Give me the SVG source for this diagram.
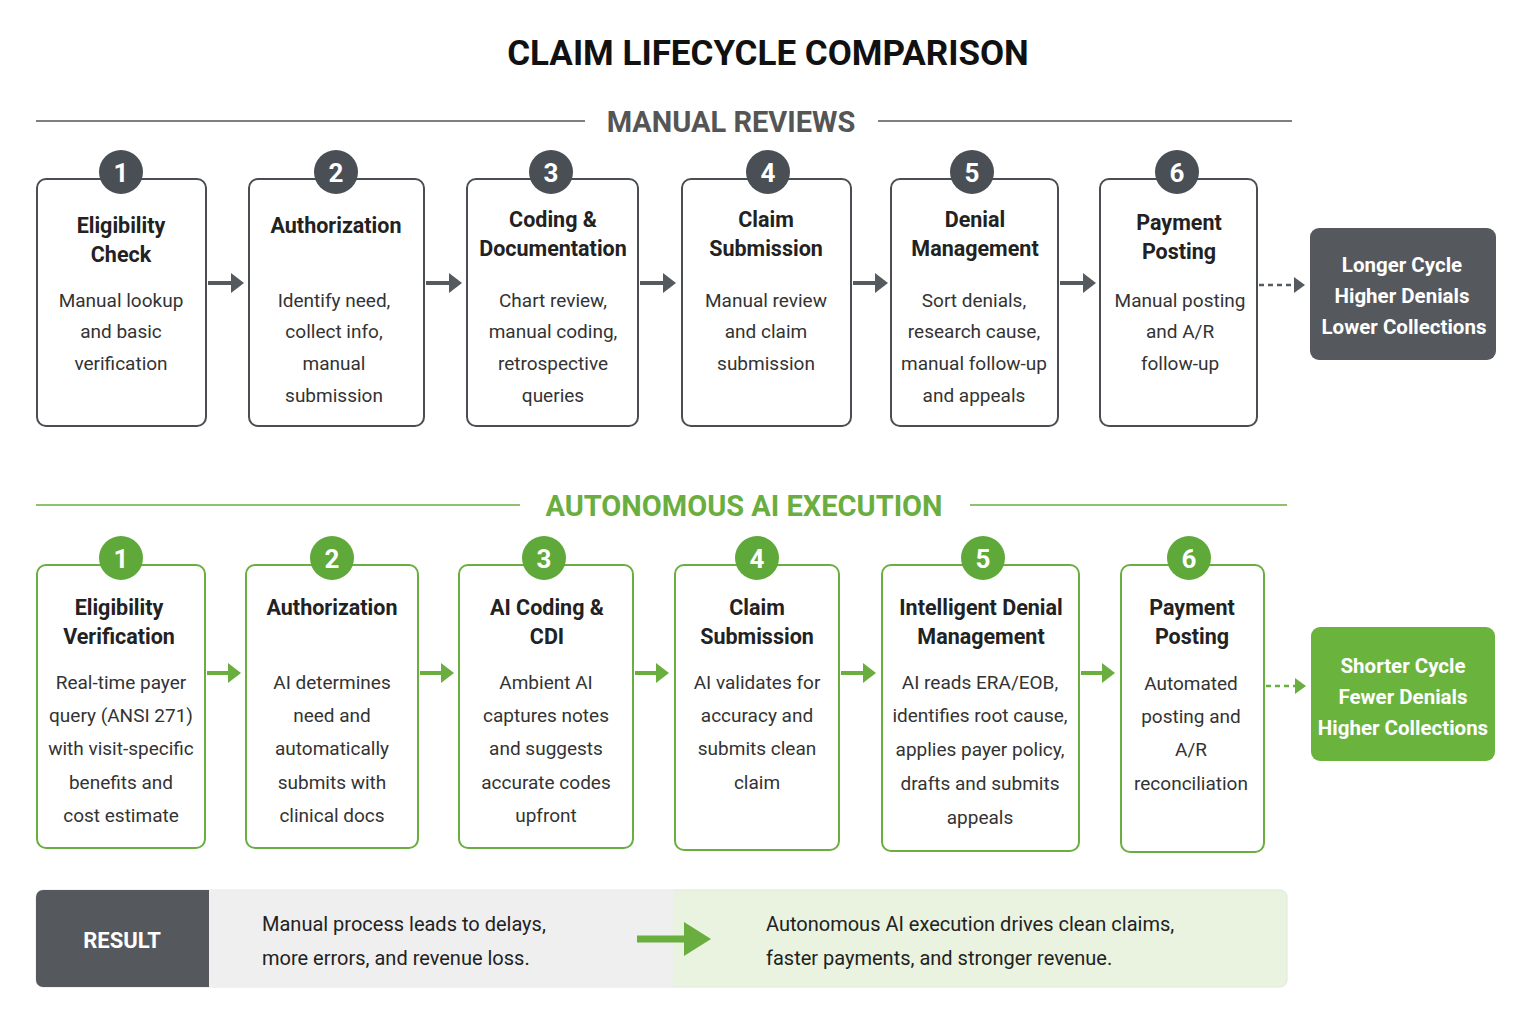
<svg xmlns="http://www.w3.org/2000/svg" width="1535" height="1024" viewBox="0 0 1535 1024">
<defs>
<style>
text{font-family:Roboto,"Liberation Sans",sans-serif;text-anchor:middle}
.t{font-size:21.5px;font-weight:bold;fill:#222}
.b{font-size:19px;fill:#333}
.mb{fill:#fff;stroke:#4a4e52;stroke-width:2}
.ab{fill:#fff;stroke:#6aae3f;stroke-width:2}
.mc{fill:#4a4f55}
.ac{fill:#5fa83a}
.n{font-size:26px;font-weight:bold;fill:#fff}
.ma{stroke:#555a5e;stroke-width:4;fill:none}
.aa{stroke:#6aae3f;stroke-width:4;fill:none}
</style>
<marker id="mh" markerWidth="14" markerHeight="20" refX="2" refY="10" orient="auto" markerUnits="userSpaceOnUse"><path d="M0,0 L13,10 L0,20 z" fill="#555a5e"/></marker>
<marker id="ah" markerWidth="14" markerHeight="20" refX="2" refY="10" orient="auto" markerUnits="userSpaceOnUse"><path d="M0,0 L13,10 L0,20 z" fill="#6aae3f"/></marker>
<marker id="mhs" markerWidth="12" markerHeight="16" refX="2" refY="8" orient="auto" markerUnits="userSpaceOnUse"><path d="M0,0 L11,8 L0,16 z" fill="#555a5e"/></marker>
<marker id="ahs" markerWidth="12" markerHeight="16" refX="2" refY="8" orient="auto" markerUnits="userSpaceOnUse"><path d="M0,0 L11,8 L0,16 z" fill="#6aae3f"/></marker>
</defs>
<rect width="1535" height="1024" fill="#fff"/>
<text x="768" y="65" style="font-size:35px;font-weight:bold;fill:#111">CLAIM LIFECYCLE COMPARISON</text>
<g id="manual-header">
<line x1="36" y1="121" x2="585" y2="121" stroke="#555" stroke-width="1.5"/>
<line x1="878" y1="121" x2="1292" y2="121" stroke="#555" stroke-width="1.5"/>
<text x="731" y="132" style="font-size:29px;font-weight:bold;fill:#555">MANUAL REVIEWS</text>
</g>
<g id="ai-header">
<line x1="36" y1="505" x2="520" y2="505" stroke="#6aae3f" stroke-width="1.5"/>
<line x1="970" y1="505" x2="1287" y2="505" stroke="#6aae3f" stroke-width="1.5"/>
<text x="744" y="516" style="font-size:29px;font-weight:bold;fill:#6aae3f">AUTONOMOUS AI EXECUTION</text>
</g>
<g id="connectors">
<line class="ma" x1="208" y1="283" x2="233" y2="283" marker-end="url(#mh)"/>
<line class="ma" x1="426" y1="283" x2="451" y2="283" marker-end="url(#mh)"/>
<line class="ma" x1="640" y1="283" x2="665" y2="283" marker-end="url(#mh)"/>
<line class="ma" x1="853" y1="283" x2="877" y2="283" marker-end="url(#mh)"/>
<line class="ma" x1="1060" y1="283" x2="1085" y2="283" marker-end="url(#mh)"/>
<line x1="1259" y1="285" x2="1296" y2="285" stroke="#555a5e" stroke-width="2.5" stroke-dasharray="5,4" marker-end="url(#mhs)"/>
<line class="aa" x1="207" y1="673" x2="230" y2="673" marker-end="url(#ah)"/>
<line class="aa" x1="420" y1="673" x2="443" y2="673" marker-end="url(#ah)"/>
<line class="aa" x1="635" y1="673" x2="658" y2="673" marker-end="url(#ah)"/>
<line class="aa" x1="841" y1="673" x2="865" y2="673" marker-end="url(#ah)"/>
<line class="aa" x1="1081" y1="673" x2="1104" y2="673" marker-end="url(#ah)"/>
<line x1="1266" y1="686" x2="1297" y2="686" stroke="#6aae3f" stroke-width="2.5" stroke-dasharray="5,4" marker-end="url(#ahs)"/>
</g>
<g id="m1"><rect class="mb" x="37" y="179" width="169" height="247" rx="9"/><circle class="mc" cx="121" cy="172" r="22"/><text class="n" x="121" y="182">1</text>
<text class="t" x="121" y="233">Eligibility</text><text class="t" x="121" y="262">Check</text>
<text class="b" x="121" y="307">Manual lookup</text><text class="b" x="121" y="338">and basic</text><text class="b" x="121" y="370">verification</text></g>
<g id="m2"><rect class="mb" x="249" y="179" width="175" height="247" rx="9"/><circle class="mc" cx="336" cy="172" r="22"/><text class="n" x="336" y="182">2</text>
<text class="t" x="336" y="233">Authorization</text>
<text class="b" x="334" y="307">Identify need,</text><text class="b" x="334" y="338">collect info,</text><text class="b" x="334" y="370">manual</text><text class="b" x="334" y="402">submission</text></g>
<g id="m3"><rect class="mb" x="467" y="179" width="171" height="247" rx="9"/><circle class="mc" cx="551" cy="172" r="22"/><text class="n" x="551" y="182">3</text>
<text class="t" x="553" y="227">Coding &amp;</text><text class="t" x="553" y="256">Documentation</text>
<text class="b" x="553" y="307">Chart review,</text><text class="b" x="553" y="338">manual coding,</text><text class="b" x="553" y="370">retrospective</text><text class="b" x="553" y="402">queries</text></g>
<g id="m4"><rect class="mb" x="682" y="179" width="169" height="247" rx="9"/><circle class="mc" cx="768" cy="172" r="22"/><text class="n" x="768" y="182">4</text>
<text class="t" x="766" y="227">Claim</text><text class="t" x="766" y="256">Submission</text>
<text class="b" x="766" y="307">Manual review</text><text class="b" x="766" y="338">and claim</text><text class="b" x="766" y="370">submission</text></g>
<g id="m5"><rect class="mb" x="891" y="179" width="167" height="247" rx="9"/><circle class="mc" cx="972" cy="172" r="22"/><text class="n" x="972" y="182">5</text>
<text class="t" x="975" y="227">Denial</text><text class="t" x="975" y="256">Management</text>
<text class="b" x="974" y="307">Sort denials,</text><text class="b" x="974" y="338">research cause,</text><text class="b" x="974" y="370">manual follow-up</text><text class="b" x="974" y="402">and appeals</text></g>
<g id="m6"><rect class="mb" x="1100" y="179" width="157" height="247" rx="9"/><circle class="mc" cx="1177" cy="172" r="22"/><text class="n" x="1177" y="182">6</text>
<text class="t" x="1179" y="230">Payment</text><text class="t" x="1179" y="259">Posting</text>
<text class="b" x="1180" y="307">Manual posting</text><text class="b" x="1180" y="338">and A/R</text><text class="b" x="1180" y="370">follow-up</text></g>
<g id="m-out"><rect x="1310" y="228" width="186" height="132" rx="9" fill="#55595d"/>
<text x="1402" y="272" style="font-size:20.5px;font-weight:bold;fill:#fff">Longer Cycle</text><text x="1402" y="303" style="font-size:20.5px;font-weight:bold;fill:#fff">Higher Denials</text><text x="1404" y="334" style="font-size:20.5px;font-weight:bold;fill:#fff">Lower Collections</text></g>
<g id="a1"><rect class="ab" x="37" y="565" width="168" height="283" rx="9"/><circle class="ac" cx="121" cy="558" r="22"/><text class="n" x="121" y="568">1</text>
<text class="t" x="119" y="615">Eligibility</text><text class="t" x="119" y="644">Verification</text>
<text class="b" x="121" y="689">Real-time payer</text><text class="b" x="121" y="722">query (ANSI 271)</text><text class="b" x="121" y="755">with visit-specific</text><text class="b" x="121" y="789">benefits and</text><text class="b" x="121" y="822">cost estimate</text></g>
<g id="a2"><rect class="ab" x="246" y="565" width="172" height="283" rx="9"/><circle class="ac" cx="332" cy="558" r="22"/><text class="n" x="332" y="568">2</text>
<text class="t" x="332" y="615">Authorization</text>
<text class="b" x="332" y="689">AI determines</text><text class="b" x="332" y="722">need and</text><text class="b" x="332" y="755">automatically</text><text class="b" x="332" y="789">submits with</text><text class="b" x="332" y="822">clinical docs</text></g>
<g id="a3"><rect class="ab" x="459" y="565" width="174" height="283" rx="9"/><circle class="ac" cx="544" cy="558" r="22"/><text class="n" x="544" y="568">3</text>
<text class="t" x="547" y="615">AI Coding &amp;</text><text class="t" x="547" y="644">CDI</text>
<text class="b" x="546" y="689">Ambient AI</text><text class="b" x="546" y="722">captures notes</text><text class="b" x="546" y="755">and suggests</text><text class="b" x="546" y="789">accurate codes</text><text class="b" x="546" y="822">upfront</text></g>
<g id="a4"><rect class="ab" x="675" y="565" width="164" height="285" rx="9"/><circle class="ac" cx="757" cy="558" r="22"/><text class="n" x="757" y="568">4</text>
<text class="t" x="757" y="615">Claim</text><text class="t" x="757" y="644">Submission</text>
<text class="b" x="757" y="689">AI validates for</text><text class="b" x="757" y="722">accuracy and</text><text class="b" x="757" y="755">submits clean</text><text class="b" x="757" y="789">claim</text></g>
<g id="a5"><rect class="ab" x="882" y="565" width="197" height="286" rx="9"/><circle class="ac" cx="983" cy="558" r="22"/><text class="n" x="983" y="568">5</text>
<text class="t" x="981" y="615">Intelligent Denial</text><text class="t" x="981" y="644">Management</text>
<text class="b" x="980" y="689">AI reads ERA/EOB,</text><text class="b" x="980" y="722">identifies root cause,</text><text class="b" x="980" y="756">applies payer policy,</text><text class="b" x="980" y="790">drafts and submits</text><text class="b" x="980" y="824">appeals</text></g>
<g id="a6"><rect class="ab" x="1121" y="565" width="143" height="287" rx="9"/><circle class="ac" cx="1189" cy="558" r="22"/><text class="n" x="1189" y="568">6</text>
<text class="t" x="1192" y="615">Payment</text><text class="t" x="1192" y="644">Posting</text>
<text class="b" x="1191" y="690">Automated</text><text class="b" x="1191" y="723">posting and</text><text class="b" x="1191" y="756">A/R</text><text class="b" x="1191" y="790">reconciliation</text></g>
<g id="a-out"><rect x="1311" y="627" width="184" height="134" rx="9" fill="#6ab43e"/>
<text x="1403" y="673" style="font-size:20.5px;font-weight:bold;fill:#fff">Shorter Cycle</text><text x="1403" y="704" style="font-size:20.5px;font-weight:bold;fill:#fff">Fewer Denials</text><text x="1403" y="735" style="font-size:20.5px;font-weight:bold;fill:#fff">Higher Collections</text></g>
<g id="result">
<rect x="36" y="890" width="1251" height="97" rx="7" fill="#e9f3e0" stroke="#dfe8d8"/>
<rect x="200" y="890" width="473" height="97" fill="#efefef"/>
<path d="M43,890 H209 V987 H43 a7,7 0 0 1 -7,-7 V897 a7,7 0 0 1 7,-7z" fill="#55595d"/>
<text x="122" y="948" style="font-size:22px;font-weight:bold;fill:#fff">RESULT</text>
<text x="262" y="931" style="font-size:20px;fill:#222;text-anchor:start">Manual process leads to delays,</text>
<text x="262" y="965" style="font-size:20px;fill:#222;text-anchor:start">more errors, and revenue loss.</text>
<line x1="637" y1="939" x2="688" y2="939" stroke="#6aae3f" stroke-width="7"/>
<path d="M684,922 L711,939 L684,956z" fill="#6aae3f"/>
<text x="766" y="931" style="font-size:20px;fill:#222;text-anchor:start">Autonomous AI execution drives clean claims,</text>
<text x="766" y="965" style="font-size:20px;fill:#222;text-anchor:start">faster payments, and stronger revenue.</text>
</g>
</svg>
